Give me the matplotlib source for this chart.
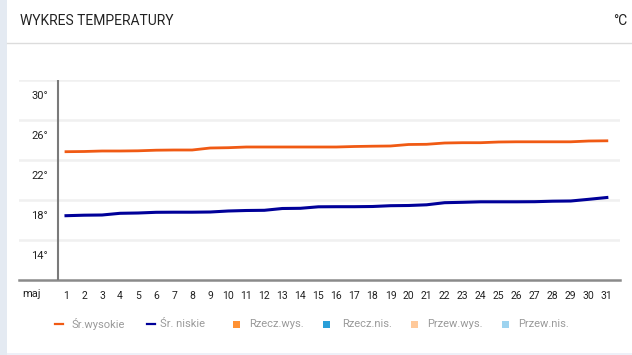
import matplotlib
matplotlib.use("Agg")
import matplotlib.pyplot as plt
import matplotlib.transforms as mtransforms
from matplotlib.lines import Line2D
from matplotlib.patches import Rectangle

plt.rcParams['font.family'] = ['Liberation Sans Narrow', 'Roboto', 'DejaVu Sans']

# data (May)
days = list(range(1, 32))
avg_high = [24.83, 24.85, 24.9, 24.9, 24.92, 24.98, 25.0, 25.0, 25.2, 25.23,
            25.3, 25.3, 25.3, 25.3, 25.3, 25.3, 25.35, 25.38, 25.4, 25.55,
            25.57, 25.7, 25.73, 25.73, 25.8, 25.82, 25.82, 25.82, 25.82, 25.9,
            25.92]
avg_low = [18.43, 18.48, 18.5, 18.67, 18.7, 18.77, 18.78, 18.78, 18.8, 18.9,
           18.95, 18.97, 19.15, 19.17, 19.32, 19.33, 19.33, 19.35, 19.43, 19.45,
           19.52, 19.73, 19.77, 19.82, 19.82, 19.82, 19.83, 19.88, 19.9, 20.07,
           20.25]
grid_values = [16, 20, 24, 28, 32]
ytick_values = [30, 26, 22, 18, 14]
month_label = "maj"

legend_items = [
    ("line", "#f05a14", "Śr.wysokie"),
    ("line", "#000099", "Śr. niskie"),
    ("box", "#ff9133", "Rzecz.wys."),
    ("box", "#2a9fd8", "Rzecz.nis."),
    ("box", "#ffc99a", "Przew.wys."),
    ("box", "#9dd3ef", "Przew.nis."),
]

W, H = 632, 355
fig = plt.figure(figsize=(W / 100, H / 100), dpi=100)
fig.patch.set_facecolor("white")


def fx(px):
    return px / W


def fy(py):
    return 1 - py / H


# card decoration
fig.add_artist(Rectangle((0, 0), fx(7), 1, transform=fig.transFigure,
                         color="#e4eaf2", lw=0))
fig.add_artist(Rectangle((fx(7), 0), 1, 2 / H, transform=fig.transFigure,
                         color="#eef0f8", lw=0))
fig.add_artist(Line2D([fx(7), 1], [fy(42.5), fy(42.5)], transform=fig.transFigure,
                      color="#dcdcdc", lw=1))
fig.text(fx(20), fy(21), "WYKRES TEMPERATURY", fontsize=10, color="#222222",
         va="center", ha="left")
fig.text(fx(627), fy(21), "°C", fontsize=10, color="#222222",
         va="center", ha="right")

# plot area
ax = fig.add_axes([fx(19), fy(280), fx(620) - fx(19), (280 - 80) / H])
ax.set_xlim(-1.607, 31.73)
ax.set_ylim(12, 32)
for s in ax.spines.values():
    s.set_visible(False)

for g in grid_values:
    ax.axhline(g, color="#f0f0f0", lw=1.8, zorder=0)
ax.axhline(12, color="#8a8a8a", lw=1.8, zorder=1, clip_on=False)
ax.axvline(0.556, color="#7a7a7a", lw=1.5, zorder=1)

ax.plot(days, avg_high, color="#f05a14", lw=2.0, zorder=3)
ax.plot(days, avg_low, color="#000099", lw=2.2, zorder=3)

ax.set_yticks([])
up = mtransforms.offset_copy(ax.transData, fig=fig, x=0, y=4 / 100 * 72, units="points")
for v in ytick_values:
    ax.text(0.0, v, f"{v}°", transform=up, ha="right", va="center",
            fontsize=8, color="#222222")

ax.set_xticks(days)
ax.set_xticklabels([str(d) for d in days], fontsize=7.5, color="#222222")
ax.tick_params(axis="x", length=0, pad=8)
ax.text(-0.94, 12, month_label, transform=mtransforms.offset_copy(
    ax.transData, fig=fig, x=0, y=-14 / 100 * 72, units="points"),
    ha="center", va="center", fontsize=8, color="#222222")

# legend (pixel positions of marker and label)
marker_x = [55, 147, 233, 323, 411, 502]
label_x = [72, 160, 249, 342, 427, 518]
for (kind, color, label), mx, lx in zip(legend_items, marker_x, label_x):
    if kind == "line":
        fig.add_artist(Line2D([fx(mx), fx(mx + 8)], [fy(324), fy(324)],
                              transform=fig.transFigure, color=color, lw=1.6))
    else:
        fig.add_artist(Rectangle((fx(mx), fy(327.5)), 7 / W, 7 / H,
                                 transform=fig.transFigure, color=color, lw=0))
    fig.text(fx(lx), fy(324), label, fontsize=8, color="#9a9a9a",
             va="center", ha="left")

fig.savefig("out.png", dpi=100)
